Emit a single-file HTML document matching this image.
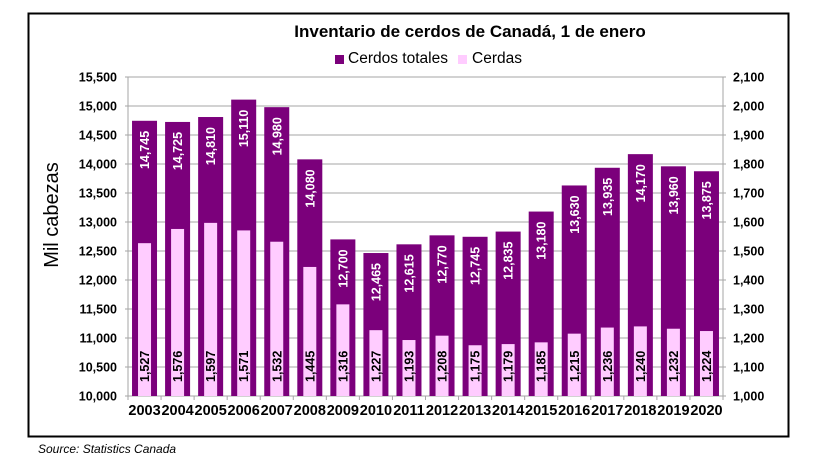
<!DOCTYPE html>
<html><head><meta charset="utf-8"><style>body{margin:0;background:#fff}svg{display:block}text{font-family:"Liberation Sans",Arial,sans-serif}</style></head>
<body>
<svg width="820" height="461" xmlns="http://www.w3.org/2000/svg">
<rect x="28.5" y="13.5" width="760" height="423" fill="#fff" stroke="#000" stroke-width="2"/>
<text x="470" y="37" font-size="17" font-weight="bold" text-anchor="middle">Inventario de cerdos de Canadá, 1 de enero</text>
<rect x="335" y="55" width="9" height="9" fill="#7B007B"/>
<text x="348" y="63" font-size="15.5">Cerdos totales</text>
<rect x="458" y="55" width="9" height="9" fill="#FFCCFF"/>
<text x="472" y="63" font-size="15.5">Cerdas</text>
<text transform="translate(58,215) rotate(-90)" font-size="20" text-anchor="middle">Mil cabezas</text>
<text x="38" y="453" font-size="12" font-style="italic">Source: Statistics Canada</text>
<g id="g"></g>
</svg>
<script>
const svg=document.querySelector('#g');let h='';
const L=128,R=723,T=77,B=396;
for(let i=0;i<=11;i++){const y=T+i*29;
h+=`<line x1="125" x2="726" y1="${y}" y2="${y}" stroke="#a6a6a6" stroke-width="1"/>`;
h+=`<text x="117" y="${y+4.5}" font-size="12.5" font-weight="bold" text-anchor="end">${(15500-i*500).toLocaleString('en-US')}</text>`;
h+=`<text x="733" y="${y+4.5}" font-size="12.5" font-weight="bold">${(2100-i*100).toLocaleString('en-US')}</text>`;}
h+=`<line x1="${L}" x2="${L}" y1="${T}" y2="${B}" stroke="#a6a6a6"/><line x1="${R}" x2="${R}" y1="${T}" y2="${B}" stroke="#a6a6a6"/>`;
const tot=[14745,14725,14810,15110,14980,14080,12700,12465,12615,12770,12745,12835,13180,13630,13935,14170,13960,13875];
const sow=[1527,1576,1597,1571,1532,1445,1316,1227,1193,1208,1175,1179,1185,1215,1236,1240,1232,1224];
const w=(R-L)/18;
for(let i=0;i<18;i++){const c=L+w*(i+0.5);
const yt=B-(tot[i]-10000)/5500*319, ys=B-(sow[i]-1000)/1100*319;
h+=`<rect x="${c-12.5}" y="${yt}" width="25" height="${B-yt}" fill="#7B007B"/>`;
h+=`<rect x="${c-6.5}" y="${ys}" width="13" height="${B-ys}" fill="#FFCCFF"/>`;
h+=`<text transform="translate(${c+4.5},${yt+10}) rotate(-90)" font-size="12.5" font-weight="bold" fill="#fff" text-anchor="end">${tot[i].toLocaleString('en-US')}</text>`;
h+=`<text transform="translate(${c+4.5},${B-14}) rotate(-90)" font-size="12.5" font-weight="bold" fill="#000">${sow[i].toLocaleString('en-US')}</text>`;
h+=`<line x1="${L+w*i}" x2="${L+w*i}" y1="${B}" y2="${B+4}" stroke="#a6a6a6"/>`;
h+=`<text x="${c}" y="${B+19}" font-size="14.5" font-weight="bold" text-anchor="middle">${2003+i}</text>`;}
h+=`<line x1="${R}" x2="${R}" y1="${B}" y2="${B+4}" stroke="#a6a6a6"/>`;
svg.innerHTML=h;
</script>
</body></html>
